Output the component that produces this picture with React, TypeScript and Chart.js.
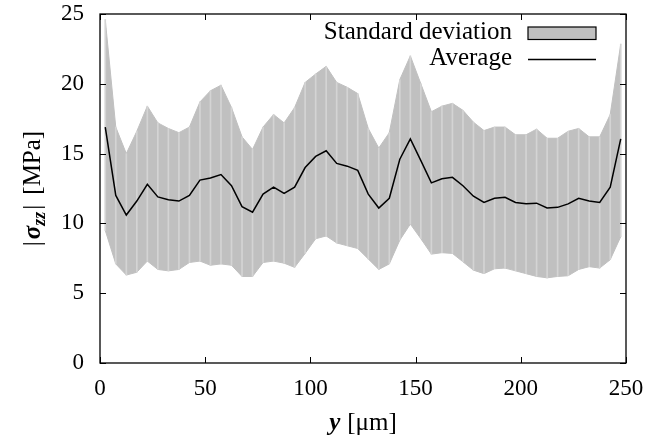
import React, { useEffect, useRef } from "react";
import { Chart, registerables } from "chart.js";

Chart.register(...registerables);

// positions along y [µm]
const positions = [
  2.5, 7.5, 12.5, 17.5, 22.5, 27.5, 32.5, 37.5, 42.5, 47.5,
  52.5, 57.5, 62.5, 67.5, 72.5, 77.5, 82.5, 87.5, 92.5, 97.5,
  102.5, 107.5, 112.5, 117.5, 122.5, 127.5, 132.5, 137.5, 142.5, 147.5,
  152.5, 157.5, 162.5, 167.5, 172.5, 177.5, 182.5, 187.5, 192.5, 197.5,
  202.5, 207.5, 212.5, 217.5, 222.5, 227.5, 232.5, 237.5, 242.5, 247.5,
];

// average |sigma_zz| [MPa]
const average = [
  16.9, 12.0, 10.6, 11.6, 12.8, 11.9, 11.7, 11.6, 12.0, 13.1,
  13.25, 13.5, 12.7, 11.2, 10.8, 12.1, 12.6, 12.15, 12.6, 14.0,
  14.8, 15.2, 14.3, 14.1, 13.8, 12.1, 11.1, 11.8, 14.6, 16.05,
  14.5, 12.9, 13.2, 13.3, 12.7, 11.95, 11.5, 11.8, 11.87, 11.5,
  11.4, 11.45, 11.1, 11.15, 11.4, 11.8, 11.6, 11.5, 12.6, 16.05,
];

// average + standard deviation
const upper = [
  24.6, 16.9, 15.0, 16.6, 18.4, 17.2, 16.8, 16.5, 16.9, 18.7,
  19.5, 19.9, 18.3, 16.2, 15.3, 16.9, 17.8, 17.2, 18.3, 20.1,
  20.7, 21.25, 20.1, 19.75, 19.3, 16.8, 15.4, 16.5, 20.3, 22.0,
  20.0, 18.0, 18.4, 18.6, 18.1, 17.25, 16.65, 16.9, 16.9, 16.35,
  16.35, 16.75, 16.1, 16.1, 16.6, 16.8, 16.2, 16.2, 17.8, 22.85,
];

// average - standard deviation
const lower = [
  9.5, 7.1, 6.3, 6.5, 7.3, 6.7, 6.6, 6.7, 7.2, 7.3,
  7.0, 7.1, 7.0, 6.2, 6.2, 7.2, 7.3, 7.15, 6.85, 7.85,
  8.9, 9.1, 8.6, 8.4, 8.2, 7.45, 6.7, 7.1, 8.8, 9.95,
  8.9, 7.8, 7.9, 7.85, 7.25, 6.65, 6.4, 6.75, 6.8, 6.6,
  6.4, 6.2, 6.1, 6.2, 6.25, 6.7, 6.9, 6.8, 7.4, 9.05,
];

const xTicks = [0, 50, 100, 150, 200, 250];
const yTicks = [0, 5, 10, 15, 20, 25];

const FONT = '"Liberation Serif", "DejaVu Serif", serif';
const BAND = "#c0c0c0";

type Part = { text: string; font: string; dy?: number; gap?: number };

function drawParts(ctx: CanvasRenderingContext2D, parts: Part[], cx: number, cy: number, rot: number) {
  ctx.save();
  ctx.translate(cx, cy);
  ctx.rotate(rot);
  ctx.textBaseline = "alphabetic";
  ctx.textAlign = "left";
  ctx.fillStyle = "#000";
  let total = 0;
  for (const p of parts) {
    ctx.font = p.font;
    total += ctx.measureText(p.text).width + (p.gap || 0);
  }
  let x = -total / 2;
  for (const p of parts) {
    ctx.font = p.font;
    ctx.fillText(p.text, x, p.dy || 0);
    x += ctx.measureText(p.text).width + (p.gap || 0);
  }
  ctx.restore();
}

const decorPlugin = {
  id: "decor",
  afterDraw(chart: any) {
    const { ctx, chartArea: a, scales } = chart;
    const xs = scales.x;
    const ys = scales.y;
    ctx.save();
    // inward tick marks on all four sides
    ctx.strokeStyle = "#000";
    ctx.lineWidth = 1;
    ctx.beginPath();
    xs.ticks.forEach((t: any) => {
      const px = Math.round(xs.getPixelForValue(t.value)) + 0.5;
      ctx.moveTo(px, a.bottom);
      ctx.lineTo(px, a.bottom - 6);
      ctx.moveTo(px, a.top);
      ctx.lineTo(px, a.top + 6);
    });
    ys.ticks.forEach((t: any) => {
      const py = Math.round(ys.getPixelForValue(t.value)) + 0.5;
      ctx.moveTo(a.left, py);
      ctx.lineTo(a.left + 6, py);
      ctx.moveTo(a.right, py);
      ctx.lineTo(a.right - 6, py);
    });
    ctx.stroke();
    // frame
    ctx.lineWidth = 1.3;
    ctx.strokeRect(a.left, a.top, a.right - a.left, a.bottom - a.top);

    // legend (inside, top right)
    const ds = chart.data.datasets;
    const band = ds[2];
    const avg = ds[0];
    const textRight = a.right - 114;
    const symL = a.right - 98;
    const symR = a.right - 30;
    ctx.font = `25px ${FONT}`;
    ctx.fillStyle = "#000";
    ctx.textAlign = "right";
    ctx.textBaseline = "alphabetic";
    ctx.fillText(band.label, textRight, a.top + 25);
    ctx.fillStyle = band.backgroundColor;
    ctx.fillRect(symL, a.top + 13, symR - symL, 12.5);
    ctx.strokeStyle = "#000";
    ctx.lineWidth = 1.2;
    ctx.strokeRect(symL, a.top + 13, symR - symL, 12.5);
    ctx.fillStyle = "#000";
    ctx.fillText(avg.label, textRight, a.top + 51);
    ctx.strokeStyle = avg.borderColor;
    ctx.lineWidth = avg.borderWidth;
    ctx.beginPath();
    ctx.moveTo(symL, a.top + 45.5);
    ctx.lineTo(symR, a.top + 45.5);
    ctx.stroke();
    ctx.restore();

    // axis titles
    const reg = `25px ${FONT}`;
    const bi = `italic bold 25px ${FONT}`;
    const biSub = `italic bold 18px ${FONT}`;
    drawParts(
      ctx,
      [
        { text: "y", font: bi, gap: 7 },
        { text: "[μm]", font: reg },
      ],
      (a.left + a.right) / 2,
      a.bottom + 67,
      0
    );
    drawParts(
      ctx,
      [
        { text: "|", font: reg, gap: 2 },
        { text: "σ", font: bi, gap: 0 },
        { text: "zz", font: biSub, dy: 5, gap: 2 },
        { text: "|", font: reg, gap: 10 },
        { text: "[MPa]", font: reg },
      ],
      a.left - 60,
      (a.top + a.bottom) / 2,
      -Math.PI / 2
    );
  },
};

export default function App() {
  const ref = useRef<HTMLCanvasElement>(null);

  useEffect(() => {
    if (!ref.current) return;
    const chart = new Chart(ref.current, {
      type: "line",
      data: {
        datasets: [
          {
            label: "Average",
            data: positions.map((p, i) => ({ x: p, y: average[i] })),
            borderColor: "#000",
            borderWidth: 1.5,
            pointRadius: 0,
            tension: 0,
            fill: false,
          },
          {
            type: "bar",
            label: "gaps",
            data: positions.map((p, i) => ({ x: p, y: [lower[i], upper[i]] })),
            backgroundColor: "#d4d4d4",
            borderWidth: 0,
            barThickness: 1,
          } as any,
          {
            label: "Standard deviation",
            data: positions.map((p, i) => ({ x: p, y: upper[i] })),
            borderColor: BAND,
            backgroundColor: BAND,
            borderWidth: 1,
            pointRadius: 0,
            tension: 0,
            fill: "+1",
          },
          {
            label: "lower",
            data: positions.map((p, i) => ({ x: p, y: lower[i] })),
            borderColor: BAND,
            backgroundColor: BAND,
            borderWidth: 1,
            pointRadius: 0,
            tension: 0,
            fill: false,
          },
        ],
      },
      options: {
        animation: false,
        responsive: true,
        maintainAspectRatio: false,
        events: [],
        layout: { padding: { left: 0, top: 14, right: 26, bottom: 0 } },
        plugins: {
          legend: { display: false },
          tooltip: { enabled: false },
        },
        scales: {
          x: {
            type: "linear",
            min: 0,
            max: 250,
            offset: false,
            grid: { display: false, drawTicks: false, offset: false },
            border: { display: false },
            afterBuildTicks: (s: any) => {
              s.ticks = xTicks.map((v) => ({ value: v }));
            },
            afterFit: (s: any) => {
              s.height = 82;
              s.paddingLeft = 0;
              s.paddingRight = 0;
            },
            ticks: {
              color: "#000",
              padding: 12,
              maxRotation: 0,
              font: { family: FONT, size: 23 },
            },
          },
          y: {
            type: "linear",
            min: 0,
            max: 25,
            grid: { display: false, drawTicks: false },
            border: { display: false },
            afterBuildTicks: (s: any) => {
              s.ticks = yTicks.map((v) => ({ value: v }));
            },
            afterFit: (s: any) => {
              s.width = 100;
              s.paddingTop = 0;
              s.paddingBottom = 0;
            },
            ticks: {
              color: "#000",
              padding: 16,
              font: { family: FONT, size: 23 },
            },
          },
        },
      },
      plugins: [decorPlugin],
    });
    return () => chart.destroy();
  }, []);

  return (
    <div style={{ position: "absolute", left: 0, top: 0, width: 652, height: 445, background: "#fff" }}>
      <canvas ref={ref} />
    </div>
  );
}
